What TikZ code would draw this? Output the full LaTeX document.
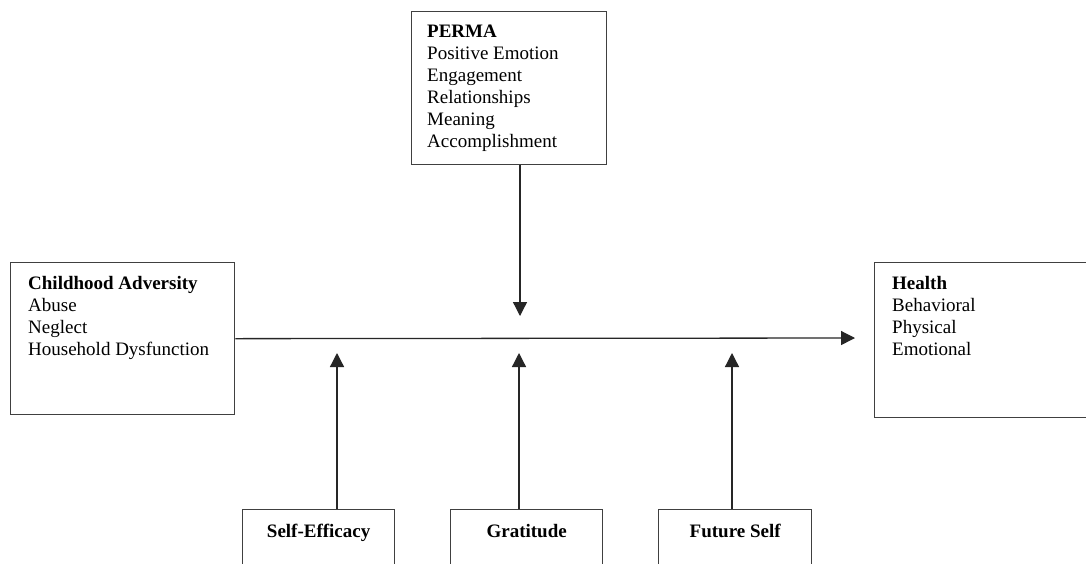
\documentclass[tikz,border=0pt]{standalone}
\usepackage{fontspec}
\setmainfont{Liberation Serif}
\usetikzlibrary{arrows.meta}

\begin{document}
\begin{tikzpicture}[x=1pt,y=1pt,
  box/.style={draw=black!75,line width=1.3pt,rectangle,anchor=north west,inner sep=0pt},
  lbl/.style={anchor=north west,align=left,inner sep=0pt,font=\fontsize{19}{22}\selectfont},
  tag/.style={anchor=north,inner sep=0pt,font=\fontsize{19}{22}\selectfont\bfseries},
  arr/.style={draw=black!85,line width=1.3pt,-{Triangle[length=14pt,width=14pt]}}]
\clip (0,0) rectangle (1086,-563);
\fill [white] (0,0) rectangle (1086,-563);
% moderator on top
\node [box,minimum width=195pt,minimum height=153pt] (perma) at (411,-11) {};
\node [lbl] (permatext) at ([shift={(16pt,-14pt)}]perma.north west) {\textbf{PERMA}\\Positive Emotion\\Engagement\\Relationships\\Meaning\\Accomplishment};
% left and right
\node [box,minimum width=224pt,minimum height=152pt] (adv) at (10,-262) {};
\node [lbl] (advtext) at ([shift={(18pt,-14pt)}]adv.north west) {\textbf{Childhood Adversity}\\Abuse\\Neglect\\Household Dysfunction};
\node [box,minimum width=230pt,minimum height=155pt] (health) at (874,-262) {};
\node [lbl] (healthtext) at ([shift={(18pt,-14pt)}]health.north west) {\textbf{Health}\\Behavioral\\Physical\\Emotional};
% bottom row
\node [box,minimum width=152pt,minimum height=70pt] (efficacy) at (242,-509) {};
\node [tag] (efficacytext) at ([yshift=-15pt]efficacy.north) {Self-Efficacy};
\node [box,minimum width=152pt,minimum height=70pt] (gratitude) at (450,-509) {};
\node [tag] (gratitudetext) at ([yshift=-15pt]gratitude.north) {Gratitude};
\node [box,minimum width=153pt,minimum height=70pt] (future) at (658,-509) {};
\node [tag] (futuretext) at ([yshift=-15pt]future.north) {Future Self};
% arrows
\coordinate (main) at (855,-338);
\coordinate (down) at (520,-316);
\coordinate (up1) at (337,-353);
\coordinate (up2) at (519,-353);
\coordinate (up3) at (732,-353);
\draw [arr] (adv.east) -- (main);
\draw [arr] (down |- perma.south) -- (down);
\draw [arr] (up1 |- efficacy.north) -- (up1);
\draw [arr] (up2 |- gratitude.north) -- (up2);
\draw [arr] (up3 |- future.north) -- (up3);
\end{tikzpicture}
\end{document}
